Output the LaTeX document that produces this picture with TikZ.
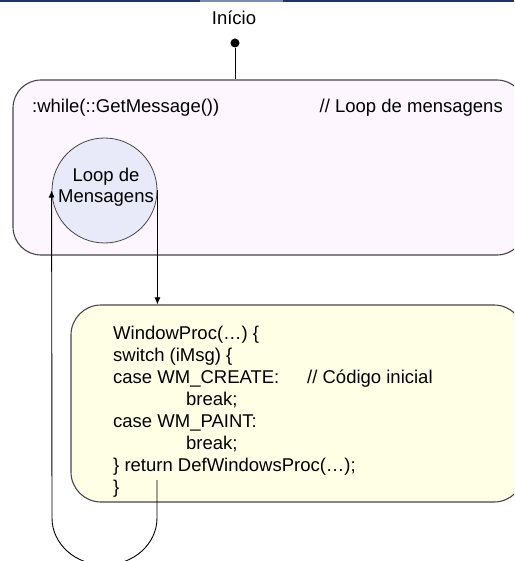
\documentclass[tikz,border=0pt]{standalone}
\usepackage{fontspec}
\setmainfont{Liberation Sans}
\usetikzlibrary{arrows.meta}
\definecolor{boxonefill}{RGB}{253,246,255}
\definecolor{boxtwofill}{RGB}{255,255,230}
\definecolor{circfill}{RGB}{232,234,250}
\definecolor{edgegray}{RGB}{70,70,70}
\definecolor{navybar}{RGB}{31,52,94}
\definecolor{navylight}{RGB}{125,140,170}
\tikzset{
  txt/.style={font=\fontsize{18.5}{22}\selectfont, inner sep=0pt, anchor=base west},
  statebox/.style={draw=edgegray, line width=1.1pt, rectangle},
  conn/.style={draw=black, line width=0.9pt},
  arr/.style={conn, -{Latex[length=7pt,width=6pt]}},
}
\begin{document}
\begin{tikzpicture}[x=1pt,y=-1pt]
\clip (0,0) rectangle (514,561);
\fill[white] (0,0) rectangle (514,561);
% top bar
\fill[navybar] (0,0) rectangle (514,2.5);
\fill[navylight] (200,0) rectangle (283,2.5);

% start
\node[txt, anchor=base] (ini) at (234,25) {Início};
\node[circle, fill=black, inner sep=0pt, minimum size=9pt] (dot) at (235,43) {};

% box 1
\node[statebox, fill=boxonefill, rounded corners=28pt, minimum width=512pt, minimum height=175pt] (box1) at (269,167.5) {};
\node[txt] (wh) at (32,113) {:while(::GetMessage())};
\node[txt, anchor=base east] (cm) at (503,113) {// Loop de mensagens};

% circle
\node[circle, draw=edgegray, line width=0.8pt, fill=circfill, minimum size=105pt, inner sep=0pt] (loop) at (104.5,190.5) {};
\node[txt, anchor=base] (lp1) at (106,182) {Loop de};
\node[txt, anchor=base] (lp2) at (106,203) {Mensagens};

% box 2
\node[statebox, fill=boxtwofill, rounded corners=30pt, minimum width=453pt, minimum height=197pt] (box2) at (297.5,403.5) {};
\node[txt] (c1) at (113,339) {WindowProc(…) \{};
\node[txt] (c2) at (113,361) {switch (iMsg) \{};
\node[txt] (c3) at (113,383) {case WM\_CREATE:};
\node[txt] (c3b) at (307,383) {// Código inicial};
\node[txt] (c4) at (186,405) {break;};
\node[txt] (c5) at (113,427) {case WM\_PAINT:};
\node[txt] (c6) at (186,449) {break;};
\node[txt] (c7) at (113,471) {\} return DefWindowsProc(…);};
\node[txt] (c8) at (113,493) {\}};

% connectors
\draw[conn] (dot) -- (dot |- box1.north);
\draw[arr] (loop.east) -- (loop.east |- box2.north);
\coordinate (ret) at (157,480);
\coordinate (rb) at (157,518);
\coordinate (lb) at (52,518);
\draw[arr] (ret) -- (rb)
  .. controls (157,544) and (133.5,565) .. (104.5,565)
  .. controls (75.5,565) and (52,544) .. (lb)
  -- (loop.west);
\end{tikzpicture}
\end{document}
